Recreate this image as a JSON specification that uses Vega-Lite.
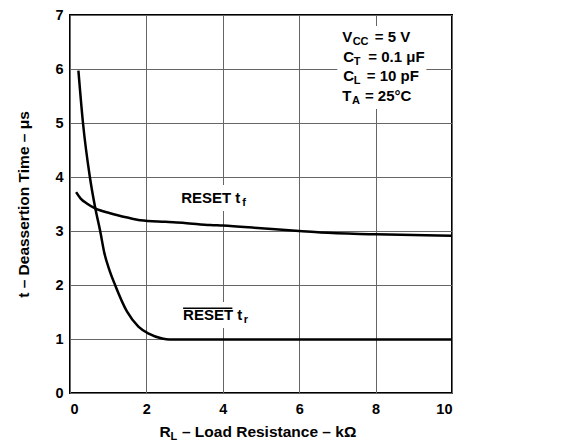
{
  "$schema": "https://vega.github.io/schema/vega-lite/v6.json",
  "width": 382,
  "height": 378,
  "autosize": {"type": "none"},
  "padding": {"left": 70, "top": 15, "right": 122, "bottom": 52},
  "background": "white",
  "config": {
    "view": {"stroke": "black", "strokeWidth": 2},
    "font": "Liberation Sans",
    "axis": {
      "labelFont": "Liberation Sans",
      "labelFontWeight": "bold",
      "labelFontSize": 14.5,
      "labelColor": "black",
      "titleFont": "Liberation Sans",
      "titleFontWeight": "bold",
      "titleFontSize": 15.5,
      "titleColor": "black",
      "gridColor": "#666666",
      "gridWidth": 1,
      "gridOpacity": 1,
      "ticks": false,
      "tickSize": 0,
      "domain": false
    }
  },
  "datasets": {
    "curves": [
      {"series": "tr", "x": 0.22, "y": 5.97},
      {"series": "tr", "x": 0.34, "y": 5.0},
      {"series": "tr", "x": 0.52, "y": 4.0},
      {"series": "tr", "x": 0.66, "y": 3.43},
      {"series": "tr", "x": 0.79, "y": 3.0},
      {"series": "tr", "x": 0.9, "y": 2.59},
      {"series": "tr", "x": 1.03, "y": 2.28},
      {"series": "tr", "x": 1.18, "y": 2.0},
      {"series": "tr", "x": 1.49, "y": 1.51},
      {"series": "tr", "x": 1.79, "y": 1.23},
      {"series": "tr", "x": 2.06, "y": 1.1},
      {"series": "tr", "x": 2.41, "y": 1.01},
      {"series": "tr", "x": 2.6, "y": 0.99},
      {"series": "tr", "x": 4.0, "y": 0.99},
      {"series": "tr", "x": 6.0, "y": 0.99},
      {"series": "tr", "x": 8.0, "y": 0.99},
      {"series": "tr", "x": 10.0, "y": 0.99},
      {"series": "tf", "x": 0.16, "y": 3.72},
      {"series": "tf", "x": 0.28, "y": 3.6},
      {"series": "tf", "x": 0.44, "y": 3.51},
      {"series": "tf", "x": 0.66, "y": 3.42},
      {"series": "tf", "x": 1.05, "y": 3.33},
      {"series": "tf", "x": 1.5, "y": 3.25},
      {"series": "tf", "x": 1.84, "y": 3.2},
      {"series": "tf", "x": 2.5, "y": 3.17},
      {"series": "tf", "x": 3.0, "y": 3.15},
      {"series": "tf", "x": 3.67, "y": 3.11},
      {"series": "tf", "x": 4.0, "y": 3.1},
      {"series": "tf", "x": 5.0, "y": 3.05},
      {"series": "tf", "x": 6.0, "y": 3.0},
      {"series": "tf", "x": 6.56, "y": 2.97},
      {"series": "tf", "x": 8.0, "y": 2.94},
      {"series": "tf", "x": 10.0, "y": 2.91}
    ],
    "labels": [
      {"x": 7.13, "y": 6.6, "t": "V"},
      {"x": 7.98, "y": 6.6, "t": "= 5 V"},
      {"x": 7.15, "y": 6.23, "t": "C"},
      {"x": 7.81, "y": 6.23, "t": "= 0.1 μF"},
      {"x": 7.15, "y": 5.87, "t": "C"},
      {"x": 7.77, "y": 5.87, "t": "= 10 pF"},
      {"x": 7.13, "y": 5.5, "t": "T"},
      {"x": 7.72, "y": 5.5, "t": "= 25°C"},
      {"x": 2.91, "y": 3.61, "t": "RESET t"},
      {"x": 2.96, "y": 1.44, "t": "RESET t"}
    ],
    "subs": [
      {"x": 7.4, "y": 6.6, "t": "CC"},
      {"x": 7.43, "y": 6.23, "t": "T"},
      {"x": 7.43, "y": 5.87, "t": "L"},
      {"x": 7.38, "y": 5.5, "t": "A"},
      {"x": 4.51, "y": 3.61, "t": "f"},
      {"x": 4.55, "y": 1.44, "t": "r"}
    ],
    "overline": [
      {"x": 2.96, "x2": 4.25, "y": 1.57}
    ],
    "xtitle": [
      {"x": 2.34, "y": -0.72, "t": "R"},
      {"x": 2.93, "y": -0.72, "t": "– Load Resistance – kΩ"}
    ],
    "xtitlesub": [
      {"x": 2.63, "y": -0.72, "t": "L"}
    ]
  },
  "encoding": {
    "x": {
      "field": "x", "type": "quantitative",
      "scale": {"domain": [0, 10], "nice": false},
      "axis": {"values": [0, 2, 4, 6, 8, 10], "title": null, "labelPadding": 9, "grid": true}
    },
    "y": {
      "field": "y", "type": "quantitative",
      "scale": {"domain": [0, 7], "nice": false},
      "axis": {"values": [0, 1, 2, 3, 4, 5, 6, 7], "title": "t – Deassertion Time – μs", "labelPadding": 7, "titlePadding": 23, "grid": true}
    }
  },
  "layer": [
    {
      "data": {"name": "labels"},
      "mark": {"type": "text", "align": "left", "baseline": "middle", "fontSize": 15, "fontWeight": "bold", "stroke": "white", "strokeWidth": 16, "strokeJoin": "round", "fill": "white"},
      "encoding": {"text": {"field": "t"}}
    },
    {
      "data": {"name": "subs"},
      "mark": {"type": "text", "align": "left", "baseline": "middle", "dy": 5, "fontSize": 11, "fontWeight": "bold", "stroke": "white", "strokeWidth": 16, "strokeJoin": "round", "fill": "white"},
      "encoding": {"text": {"field": "t"}}
    },
    {
      "data": {"name": "curves"},
      "mark": {"type": "line", "color": "black", "strokeWidth": 2.5, "interpolate": "monotone"},
      "encoding": {"detail": {"field": "series"}}
    },
    {
      "data": {"name": "labels"},
      "mark": {"type": "text", "align": "left", "baseline": "middle", "fontSize": 15, "fontWeight": "bold", "color": "black"},
      "encoding": {"text": {"field": "t"}}
    },
    {
      "data": {"name": "subs"},
      "mark": {"type": "text", "align": "left", "baseline": "middle", "dy": 5, "fontSize": 11, "fontWeight": "bold", "color": "black"},
      "encoding": {"text": {"field": "t"}}
    },
    {
      "data": {"name": "overline"},
      "mark": {"type": "rule", "color": "black", "strokeWidth": 1.5},
      "encoding": {"x2": {"field": "x2"}}
    },
    {
      "data": {"name": "xtitle"},
      "mark": {"type": "text", "align": "left", "baseline": "middle", "fontSize": 15.5, "fontWeight": "bold", "color": "black"},
      "encoding": {"text": {"field": "t"}}
    },
    {
      "data": {"name": "xtitlesub"},
      "mark": {"type": "text", "align": "left", "baseline": "middle", "dy": 5, "fontSize": 11, "fontWeight": "bold", "color": "black"},
      "encoding": {"text": {"field": "t"}}
    }
  ]
}
